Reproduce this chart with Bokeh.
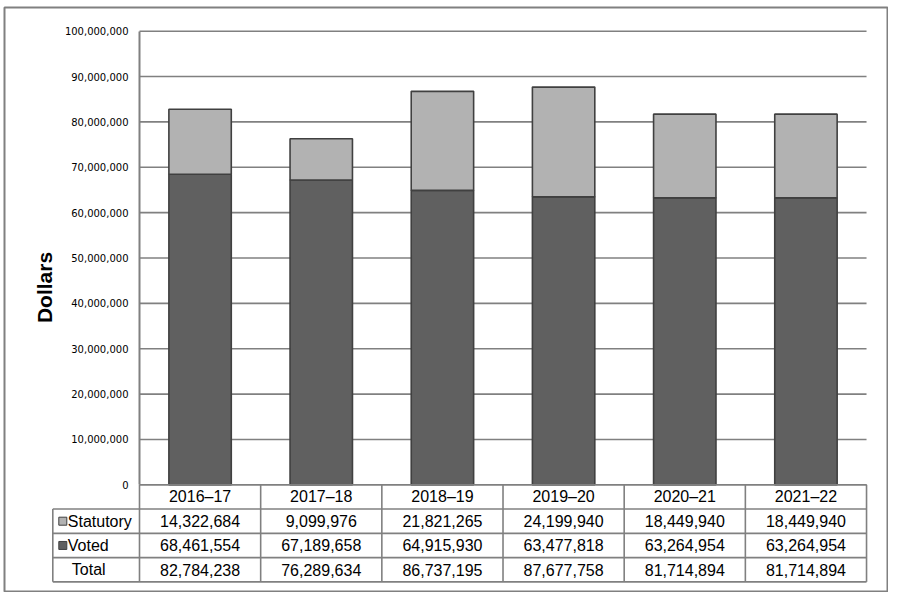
import math
from bokeh.plotting import figure
from bokeh.models import ColumnDataSource, Range1d, FixedTicker, NumeralTickFormatter
from bokeh.core.properties import value
from bokeh.embed import file_html
from bokeh.resources import INLINE

years = ["2016–17", "2017–18", "2018–19", "2019–20", "2020–21", "2021–22"]
statutory = [14322684, 9099976, 21821265, 24199940, 18449940, 18449940]
voted = [68461554, 67189658, 64915930, 63477818, 63264954, 63264954]
total = [s + v for s, v in zip(statutory, voted)]
y_ticks = [0, 10000000, 20000000, 30000000, 40000000, 50000000,
           60000000, 70000000, 80000000, 90000000, 100000000]

STAT_COLOR = "#b2b2b2"
VOTED_COLOR = "#606060"
EDGE = "#404040"
GRID = "#808080"
FONT = value("Liberation Sans")

# one frame covers the whole chart box; the table lives below y=0
FW, FH = 884, 585
x0, x1 = -1.1141, 6.1813
row_h = 5.35e6
tab_left = -0.7155
px = (x1 - x0) / FW  # one pixel in x data units

p = figure(frame_width=FW, frame_height=FH,
           x_range=Range1d(x0, x1), y_range=Range1d(-23.744e6, 105.225e6),
           x_axis_location=None,
           min_border_left=4, min_border_top=7, min_border_right=0, min_border_bottom=0,
           output_backend="svg", toolbar_location=None)
p.xgrid.visible = False
p.ygrid.visible = False
p.outline_line_color = GRID
p.outline_line_width = 2
p.background_fill_color = "white"
p.border_fill_color = "white"

ax = p.yaxis[0]
ax.fixed_location = 0
ax.bounds = (0, 100000000)
ax.ticker = FixedTicker(ticks=y_ticks)
ax.formatter = NumeralTickFormatter(format="0,0")
ax.minor_tick_line_color = None
ax.major_tick_in = 0
ax.major_tick_out = 0
ax.major_label_standoff = 11
ax.major_label_text_font = "DejaVu Sans"
ax.major_label_text_font_size = "10px"
ax.major_label_text_color = "black"
ax.axis_line_color = GRID
ax.axis_line_width = 2

p.text(x=[tab_left - 8 * px], y=[43.5e6], text=["Dollars"], angle=math.pi / 2,
       text_font=FONT, text_font_style="bold", text_font_size="21px",
       text_align="center", text_baseline="middle", text_color="black")

# horizontal gridlines
p.segment(x0=0, x1=len(years), y0=y_ticks, y1=y_ticks, line_color=GRID, line_width=1.6)

src = ColumnDataSource(dict(x=[i + 0.5 for i in range(len(years))],
                            voted=voted, statutory=statutory))
p.vbar_stack(["voted", "statutory"], x="x", width=0.515, source=src,
             fill_color=[VOTED_COLOR, STAT_COLOR], line_color=EDGE, line_width=1.6)

# data table
n = len(years)
row_y = [-row_h * k for k in range(5)]
p.segment(x0=[0] + [tab_left] * 4, x1=[n] * 5, y0=row_y, y1=row_y,
          line_color=GRID, line_width=1.6)
p.segment(x0=list(range(n + 1)), x1=list(range(n + 1)),
          y0=[0] * (n + 1), y1=[row_y[-1]] * (n + 1), line_color=GRID, line_width=1.6)
p.segment(x0=[tab_left], x1=[tab_left], y0=[row_y[1]], y1=[row_y[-1]],
          line_color=GRID, line_width=1.6)

xs = [i + 0.5 for i in range(n)]
rows = [years,
        [f"{v:,}" for v in statutory],
        [f"{v:,}" for v in voted],
        [f"{v:,}" for v in total]]
for k, labels in enumerate(rows):
    yc = -row_h * (k + 0.5)
    p.text(x=xs, y=[yc] * n, text=labels, text_font=FONT, text_font_size="16px",
           text_align="center", text_baseline="middle", text_color="black")

row_names = ["Statutory", "Voted", "Total"]
swatches = [STAT_COLOR, VOTED_COLOR, None]
for k, (name, col) in enumerate(zip(row_names, swatches)):
    yc = -row_h * (k + 1.5)
    if col is not None:
        p.scatter(x=[tab_left + 10 * px], y=[yc], marker="square", size=8,
                  fill_color=col, line_color=EDGE, line_width=1)
        off = 15
    else:
        off = 19
    p.text(x=[tab_left], y=[yc], text=[name], x_offset=off, text_font=FONT,
           text_font_size="16px", text_align="left", text_baseline="middle",
           text_color="black")

open("out.html", "w").write(file_html(p, INLINE))
